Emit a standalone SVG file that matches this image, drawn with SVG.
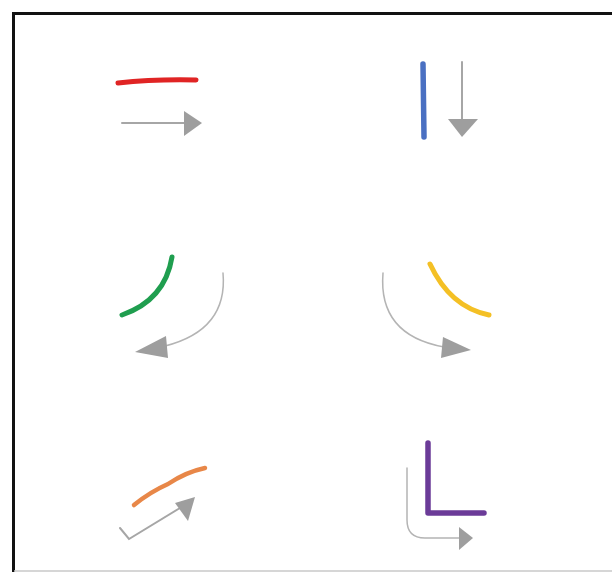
<svg xmlns="http://www.w3.org/2000/svg" width="612" height="572" viewBox="0 0 612 572">
<style>
.stroke{fill:none;stroke-linecap:round;stroke-linejoin:round}
.conn{fill:none;stroke:#a6a6a6;stroke-width:2;stroke-linecap:round}
.conn-thin{fill:none;stroke:#b4b4b4;stroke-width:1.5;stroke-linecap:round}
.head{fill:#9e9e9e}
</style>
<rect x="0" y="0" width="612" height="572" fill="#ffffff"/>
<path d="M13.5 572 V13.5 H612" fill="none" stroke="#111" stroke-width="3"/>
<line x1="14" y1="571" x2="612" y2="571" stroke="#c8c8c8" stroke-width="1.5"/>
<g id="node-red"><path class="stroke" d="M118 83 Q155 79 196 80" stroke="#e02424" stroke-width="5"/></g>
<g id="node-blue"><path class="stroke" d="M423 64 L424 137" stroke="#4a70c2" stroke-width="5.5"/></g>
<g id="node-green"><path class="stroke" d="M172 257 Q165 300 122 315" stroke="#1f9e4f" stroke-width="5"/></g>
<g id="node-yellow"><path class="stroke" d="M430 264 Q450 307 489 315" stroke="#f4c025" stroke-width="5"/></g>
<g id="node-orange"><path class="stroke" d="M134 505 Q150 492 168 484 Q186 472 205 468" stroke="#e88748" stroke-width="4.5"/></g>
<g id="node-purple"><path class="stroke" d="M428 443 V513 H484" stroke="#6b3b98" stroke-width="5.5"/></g>
<g id="connectors">
<line class="conn" x1="122" y1="123" x2="186" y2="123"/>
<polygon class="head" points="202,123 184,111 184,136"/>
<line class="conn" x1="462" y1="62" x2="462" y2="122"/>
<polygon class="head" points="462,137 448,119 478,119"/>
<path class="conn-thin" d="M223 273 Q228 330 165 346"/>
<polygon class="head" points="135,352 166,336 168,358"/>
<path class="conn-thin" d="M383 273 Q378 335 444 347"/>
<polygon class="head" points="471,350 443,337 441,358"/>
<path class="conn" d="M120 528 L129 539 L180 508"/>
<polygon class="head" points="195,497 175,503 188,521"/>
<path class="conn-thin" d="M407 468 V520 Q407 538 425 538 H460"/>
<polygon class="head" points="473,538 459,527 459,550"/>
</g>
</svg>
